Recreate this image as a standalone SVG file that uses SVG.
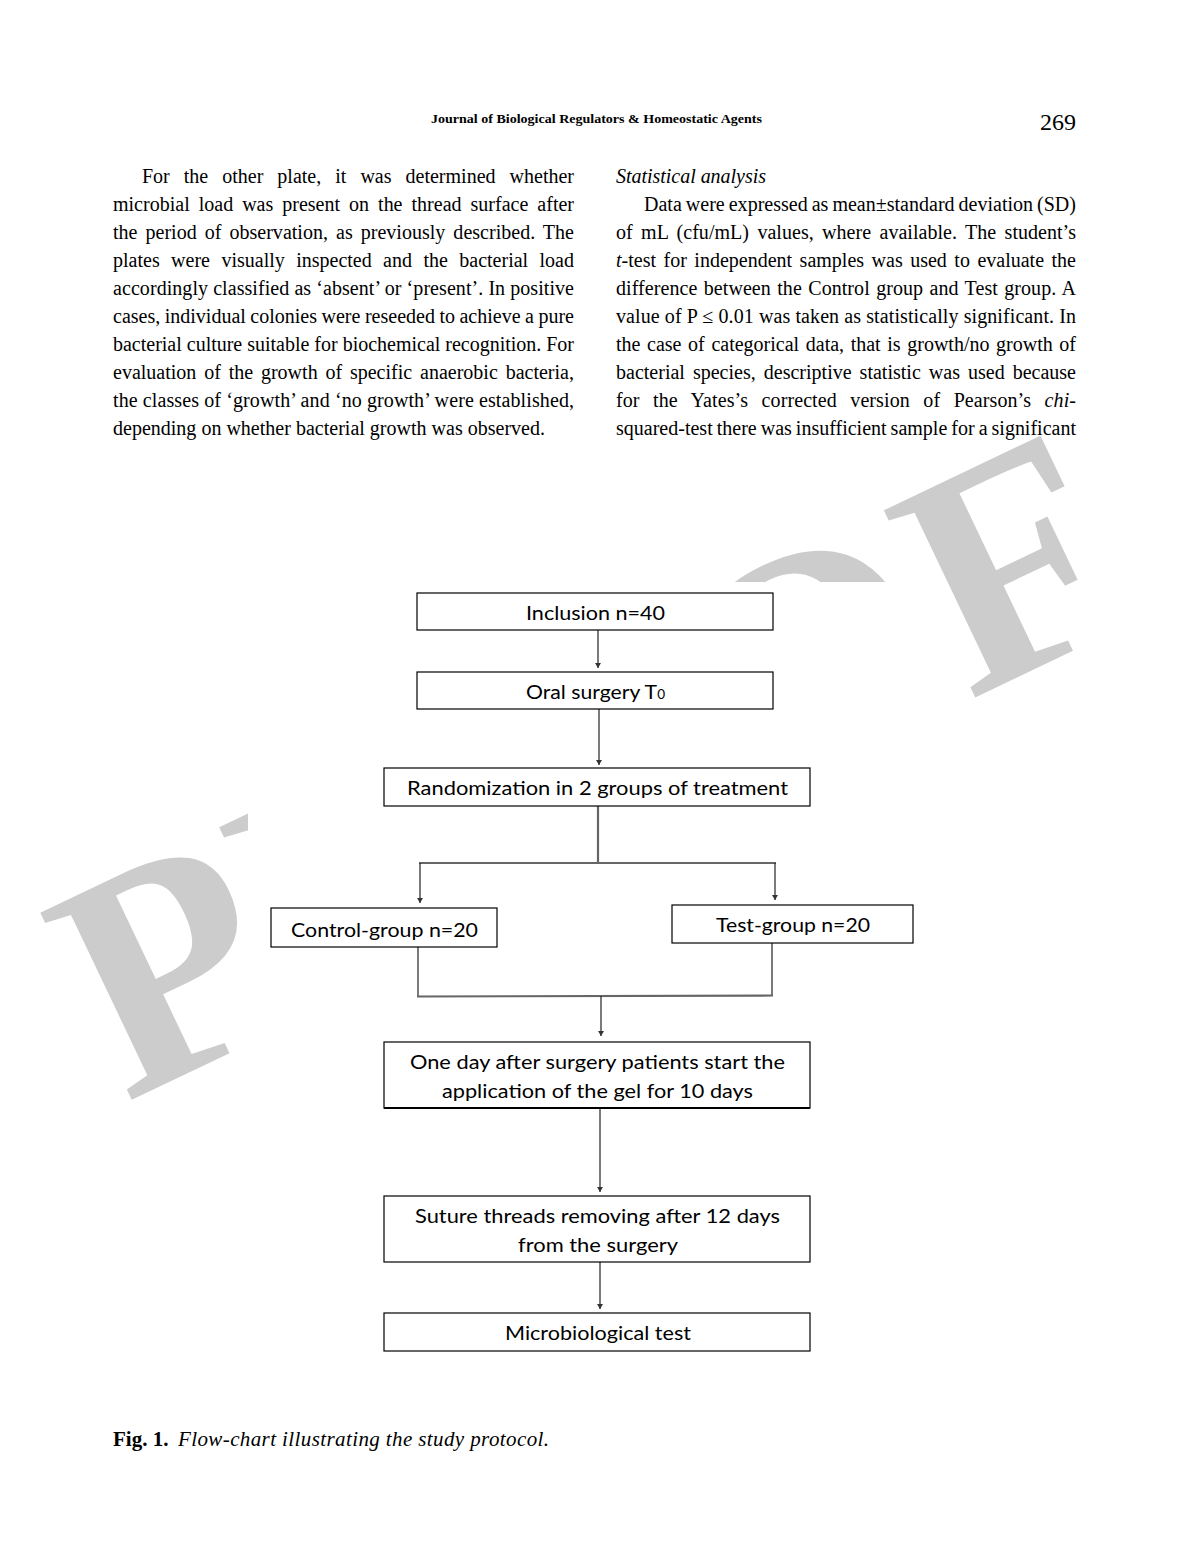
<svg xmlns="http://www.w3.org/2000/svg" width="1191" height="1559" viewBox="0 0 1191 1559">
<defs>
<style>
.body{font-family:"Liberation Serif","Times New Roman",serif;font-size:20px;fill:#000}
.it{font-style:italic}
.hdr{font-family:"Liberation Serif","Times New Roman",serif;font-weight:bold;font-size:12.5px;fill:#000}
.pg{font-family:"Liberation Serif","Times New Roman",serif;font-size:24px;fill:#000}
.cap{font-family:"Liberation Serif","Times New Roman",serif;font-size:21px;fill:#000}
.wm{font-family:"Liberation Serif","Times New Roman",serif;font-weight:bold;font-size:318px;fill:#cccccc}
.box{fill:#fff;stroke:#000;stroke-width:1.2}
.lbl{font-family:Lato,"Open Sans",sans-serif;font-size:19.5px;fill:#000}
.con{fill:none;stroke:#222;stroke-width:1.2}
.bar{fill:none;stroke:#666;stroke-width:2.2}
</style>
<marker id="ah" markerUnits="userSpaceOnUse" markerWidth="6" markerHeight="6" refX="5" refY="3" orient="auto">
<path d="M0,0 L5,3 L0,6 z" fill="#333"/>
</marker>
</defs>
<rect width="1191" height="1559" fill="#fff"/>

<!-- header -->
<text class="hdr" x="431" y="123" textLength="331" lengthAdjust="spacingAndGlyphs">Journal of Biological Regulators &amp; Homeostatic Agents</text>
<text class="pg" x="1040" y="130">269</text>

<!-- left column -->
<g class="body">
<text x="142" y="183" word-spacing="9" textLength="432" lengthAdjust="spacing">For the other plate, it was determined whether</text>
<text x="113" y="211" word-spacing="4" textLength="461" lengthAdjust="spacing">microbial load was present on the thread surface after</text>
<text x="113" y="239" word-spacing="3" textLength="461" lengthAdjust="spacing">the period of observation, as previously described. The</text>
<text x="113" y="267" word-spacing="6.4" textLength="461" lengthAdjust="spacing">plates were visually inspected and the bacterial load</text>
<text x="113" y="295" textLength="461" lengthAdjust="spacing">accordingly classified as ‘absent’ or ‘present’. In positive</text>
<text x="113" y="323" word-spacing="-0.5" textLength="461" lengthAdjust="spacing">cases, individual colonies were reseeded to achieve a pure</text>
<text x="113" y="351" textLength="461" lengthAdjust="spacing">bacterial culture suitable for biochemical recognition. For</text>
<text x="113" y="379" word-spacing="2.8" textLength="461" lengthAdjust="spacing">evaluation of the growth of specific anaerobic bacteria,</text>
<text x="113" y="407" textLength="461" lengthAdjust="spacing">the classes of ‘growth’ and ‘no growth’ were established,</text>
<text x="113" y="435" textLength="432" lengthAdjust="spacing">depending on whether bacterial growth was observed.</text>
</g>

<!-- right column -->
<g class="body">
<text class="it" x="616" y="183" textLength="150" lengthAdjust="spacing">Statistical analysis</text>
<text x="644" y="211" word-spacing="-1" textLength="432" lengthAdjust="spacing">Data were expressed as mean±standard deviation (SD)</text>
<text x="616" y="239" word-spacing="3.3" textLength="460" lengthAdjust="spacing">of mL (cfu/mL) values, where available. The student’s</text>
<text x="616" y="267" word-spacing="2.5" textLength="460" lengthAdjust="spacing"><tspan class="it">t</tspan>-test for independent samples was used to evaluate the</text>
<text x="616" y="295" word-spacing="1.3" textLength="460" lengthAdjust="spacing">difference between the Control group and Test group. A</text>
<text x="616" y="323" textLength="460" lengthAdjust="spacing">value of P ≤ 0.01 was taken as statistically significant. In</text>
<text x="616" y="351" word-spacing="1.6" textLength="460" lengthAdjust="spacing">the case of categorical data, that is growth/no growth of</text>
<text x="616" y="379" word-spacing="3" textLength="460" lengthAdjust="spacing">bacterial species, descriptive statistic was used because</text>
<text x="616" y="407" word-spacing="8.4" textLength="460" lengthAdjust="spacing">for the Yates’s corrected version of Pearson’s <tspan class="it">chi-</tspan></text>
<text x="616" y="435" word-spacing="-1" textLength="460" lengthAdjust="spacing">squared-test there was insufficient sample for a significant</text>
</g>

<!-- watermark -->
<text class="wm" transform="translate(125,1103) rotate(-25.5)" x="0" y="0" letter-spacing="4">PROOF</text>

<!-- figure background -->
<rect x="248" y="582" width="692" height="800" fill="#fff"/>

<!-- connectors -->
<g id="connectors">
<line class="con" x1="598" y1="630" x2="598" y2="668" marker-end="url(#ah)"/>
<line class="con" x1="599" y1="709" x2="599" y2="765" marker-end="url(#ah)"/>
<line class="bar" x1="598" y1="806" x2="598" y2="863"/>
<line class="bar" x1="419" y1="863" x2="776" y2="863"/>
<line class="con" x1="420" y1="863" x2="420" y2="903" marker-end="url(#ah)"/>
<line class="con" x1="775" y1="863" x2="775" y2="900" marker-end="url(#ah)"/>
<line class="con" x1="418" y1="947" x2="418" y2="997"/>
<line class="con" x1="772" y1="943" x2="772" y2="996"/>
<line class="bar" x1="417" y1="996.5" x2="773" y2="995.5"/>
<line class="con" x1="601" y1="996" x2="601" y2="1036" marker-end="url(#ah)"/>
<line class="con" x1="600" y1="1108" x2="600" y2="1192" marker-end="url(#ah)"/>
<line class="con" x1="600" y1="1262" x2="600" y2="1309" marker-end="url(#ah)"/>
</g>

<!-- nodes -->
<g id="n1"><rect class="box" x="417" y="593" width="356" height="37"/><text class="lbl" x="526" y="620" textLength="139" lengthAdjust="spacingAndGlyphs">Inclusion n=40</text></g>
<g id="n2"><rect class="box" x="417" y="672" width="356" height="37"/><text class="lbl" x="526" y="699" textLength="139" lengthAdjust="spacingAndGlyphs">Oral surgery T<tspan font-size="12.5">0</tspan></text></g>
<g id="n3"><rect class="box" x="384" y="768" width="426" height="38"/><text class="lbl" x="407" y="795" textLength="381" lengthAdjust="spacingAndGlyphs">Randomization in 2 groups of treatment</text></g>
<g id="n4"><rect class="box" x="271" y="908" width="226" height="39"/><text class="lbl" x="291" y="937" textLength="187" lengthAdjust="spacingAndGlyphs">Control-group n=20</text></g>
<g id="n5"><rect class="box" x="672" y="905" width="241" height="38"/><text class="lbl" x="716" y="932" textLength="154" lengthAdjust="spacingAndGlyphs">Test-group n=20</text></g>
<g id="n6"><rect class="box" x="384" y="1042" width="426" height="66"/><line x1="384" y1="1108" x2="810" y2="1108" stroke="#000" stroke-width="2"/><text class="lbl" x="410" y="1069" textLength="375" lengthAdjust="spacingAndGlyphs">One day after surgery patients start the</text><text class="lbl" x="442" y="1098" textLength="311" lengthAdjust="spacingAndGlyphs">application of the gel for 10 days</text></g>
<g id="n7"><rect class="box" x="384" y="1196" width="426" height="66"/><text class="lbl" x="415" y="1223" textLength="365" lengthAdjust="spacingAndGlyphs">Suture threads removing after 12 days</text><text class="lbl" x="518" y="1252" textLength="160" lengthAdjust="spacingAndGlyphs">from the surgery</text></g>
<g id="n8"><rect class="box" x="384" y="1313" width="426" height="38"/><text class="lbl" x="505" y="1340" textLength="186" lengthAdjust="spacingAndGlyphs">Microbiological test</text></g>

<!-- caption -->
<text class="cap" x="113" y="1446"><tspan font-weight="bold">Fig. 1.</tspan><tspan font-style="italic" x="178" textLength="371" lengthAdjust="spacing">Flow-chart illustrating the study protocol.</tspan></text>
</svg>
